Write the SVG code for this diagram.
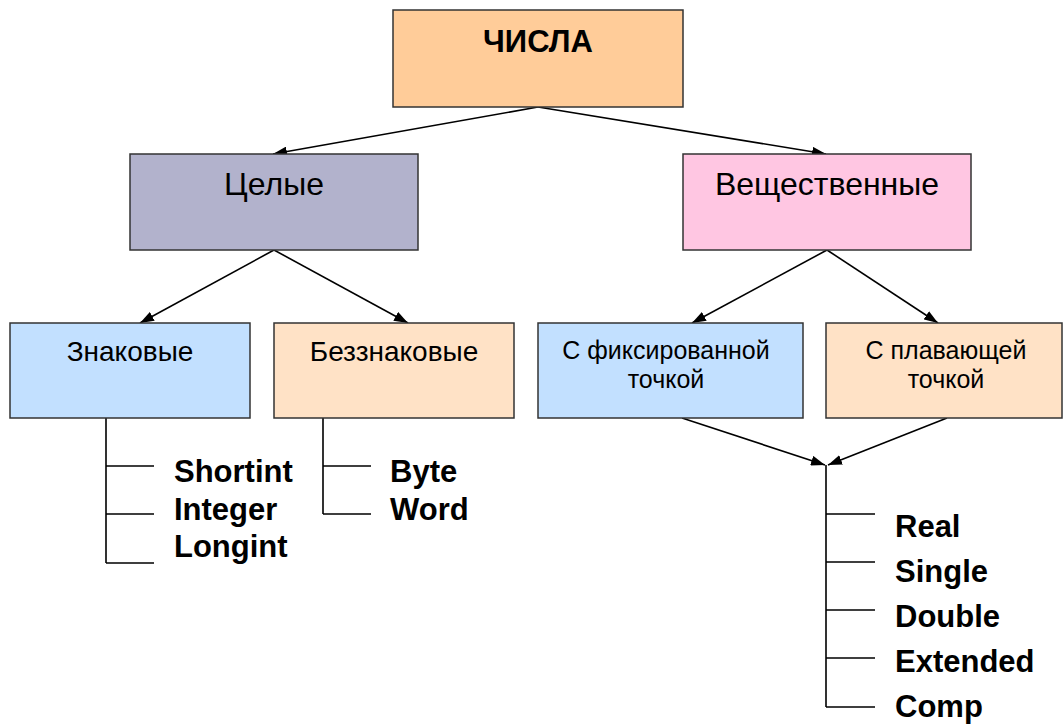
<svg xmlns="http://www.w3.org/2000/svg" width="1063" height="727" viewBox="0 0 1063 727">
<defs>
<marker id="ah" viewBox="0 0 14 10" refX="14" refY="5" markerWidth="14" markerHeight="10" markerUnits="userSpaceOnUse" orient="auto">
<path d="M0,0 L14,5 L0,10 z" fill="#000"/>
</marker>
<style>
.box{stroke:#333;stroke-width:1.5}
.t{font-family:"Liberation Sans",Arial,sans-serif;fill:#000;text-anchor:middle}
.b{font-family:"Liberation Sans",Arial,sans-serif;fill:#000;font-weight:bold;font-size:31px}
.c{stroke:#000;stroke-width:1.6;fill:none}
</style>
</defs>
<rect width="1063" height="727" fill="#fff"/>
<g id="connectors">
<line class="c" x1="538" y1="107" x2="273" y2="154" marker-end="url(#ah)"/>
<line class="c" x1="538" y1="107" x2="826" y2="154" marker-end="url(#ah)"/>
<line class="c" x1="274" y1="250" x2="140" y2="323" marker-end="url(#ah)"/>
<line class="c" x1="274" y1="250" x2="408" y2="323" marker-end="url(#ah)"/>
<line class="c" x1="827" y1="250" x2="692" y2="323" marker-end="url(#ah)"/>
<line class="c" x1="827" y1="250" x2="938" y2="323" marker-end="url(#ah)"/>
<line class="c" x1="682" y1="418" x2="825" y2="465" marker-end="url(#ah)"/>
<line class="c" x1="947" y1="418" x2="828" y2="465" marker-end="url(#ah)"/>
<path class="c" d="M106,418 V563 M106,466 H154 M106,514 H154 M106,563 H154"/>
<path class="c" d="M323,418 V514 M323,466 H371 M323,514 H371"/>
<path class="c" d="M826,465 V707 M826,514 H875 M826,562 H875 M826,610 H875 M826,658 H875 M826,707 H875"/>
</g>
<g id="n-chisla">
<rect class="box" x="393" y="10" width="290" height="97" fill="#FFCC99"/>
<text class="t" x="538" y="52" font-size="31" font-weight="bold">ЧИСЛА</text>
</g>
<g id="n-celye">
<rect class="box" x="130" y="154" width="288" height="96" fill="#B2B2CC"/>
<text class="t" x="274" y="195" font-size="32">Целые</text>
</g>
<g id="n-veshch">
<rect class="box" x="683" y="154" width="288" height="96" fill="#FFC6E2"/>
<text class="t" x="827" y="195" font-size="32">Вещественные</text>
</g>
<g id="n-znak">
<rect class="box" x="10" y="323" width="240" height="95" fill="#C2E0FF"/>
<text class="t" x="130" y="361" font-size="28">Знаковые</text>
</g>
<g id="n-bezznak">
<rect class="box" x="274" y="323" width="240" height="95" fill="#FFE2C6"/>
<text class="t" x="394" y="361" font-size="28">Беззнаковые</text>
</g>
<g id="n-fix">
<rect class="box" x="538" y="323" width="265" height="95" fill="#C2E0FF"/>
<text class="t" x="666" y="359" font-size="25">С фиксированной</text>
<text class="t" x="666" y="388" font-size="25">точкой</text>
</g>
<g id="n-float">
<rect class="box" x="826" y="323" width="236" height="95" fill="#FFE2C6"/>
<text class="t" x="946" y="359" font-size="25">С плавающей</text>
<text class="t" x="946" y="388" font-size="25">точкой</text>
</g>
<g id="list-znak">
<text class="b" x="174" y="482">Shortint</text>
<text class="b" x="174" y="520">Integer</text>
<text class="b" x="174" y="557">Longint</text>
</g>
<g id="list-bezznak">
<text class="b" x="390" y="482">Byte</text>
<text class="b" x="390" y="520">Word</text>
</g>
<g id="list-real">
<text class="b" x="895" y="537">Real</text>
<text class="b" x="895" y="582">Single</text>
<text class="b" x="895" y="627">Double</text>
<text class="b" x="895" y="672">Extended</text>
<text class="b" x="895" y="717">Comp</text>
</g>
</svg>
